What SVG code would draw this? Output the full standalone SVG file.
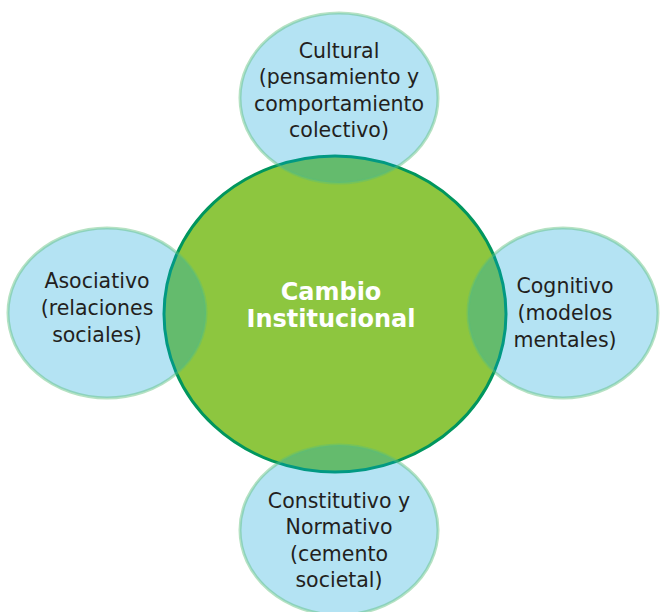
<svg xmlns="http://www.w3.org/2000/svg" width="660" height="612" viewBox="0 0 660 612">
<style>
.bub{fill:rgb(8,162,215);fill-opacity:0.3;stroke:#5cbf7a;stroke-opacity:0.45;stroke-width:3}
.lbl{font-family:"DejaVu Sans","Liberation Sans",sans-serif;font-size:20.5px;fill:#231f20;text-anchor:middle}
.ttl{font-family:"DejaVu Sans","Liberation Sans",sans-serif;font-size:24px;font-weight:bold;fill:#ffffff;text-anchor:middle}
</style>
<rect width="660" height="612" fill="#ffffff"/>
<g id="center">
<ellipse cx="335" cy="314" rx="171" ry="158" fill="#8dc63f" stroke="#00965e" stroke-width="3"/>
<text class="ttl" x="331" y="300">Cambio</text>
<text class="ttl" x="331" y="327">Institucional</text>
</g>
<g id="cultural">
<ellipse class="bub" cx="339" cy="98" rx="99" ry="85"/>
<text class="lbl" x="339" y="58">Cultural</text>
<text class="lbl" x="339" y="84">(pensamiento y</text>
<text class="lbl" x="339" y="111">comportamiento</text>
<text class="lbl" x="339" y="137">colectivo)</text>
</g>
<g id="asociativo">
<ellipse class="bub" cx="107" cy="313" rx="99" ry="85"/>
<text class="lbl" x="97" y="288">Asociativo</text>
<text class="lbl" x="97" y="315">(relaciones</text>
<text class="lbl" x="97" y="342">sociales)</text>
</g>
<g id="cognitivo">
<ellipse class="bub" cx="563" cy="313" rx="95" ry="85"/>
<text class="lbl" x="565" y="293">Cognitivo</text>
<text class="lbl" x="565" y="320">(modelos</text>
<text class="lbl" x="565" y="347">mentales)</text>
</g>
<g id="constitutivo">
<ellipse class="bub" cx="339" cy="530" rx="99" ry="85"/>
<text class="lbl" x="339" y="508">Constitutivo y</text>
<text class="lbl" x="339" y="534">Normativo</text>
<text class="lbl" x="339" y="561">(cemento</text>
<text class="lbl" x="339" y="587">societal)</text>
</g>
<g id="connectors"/>
</svg>
